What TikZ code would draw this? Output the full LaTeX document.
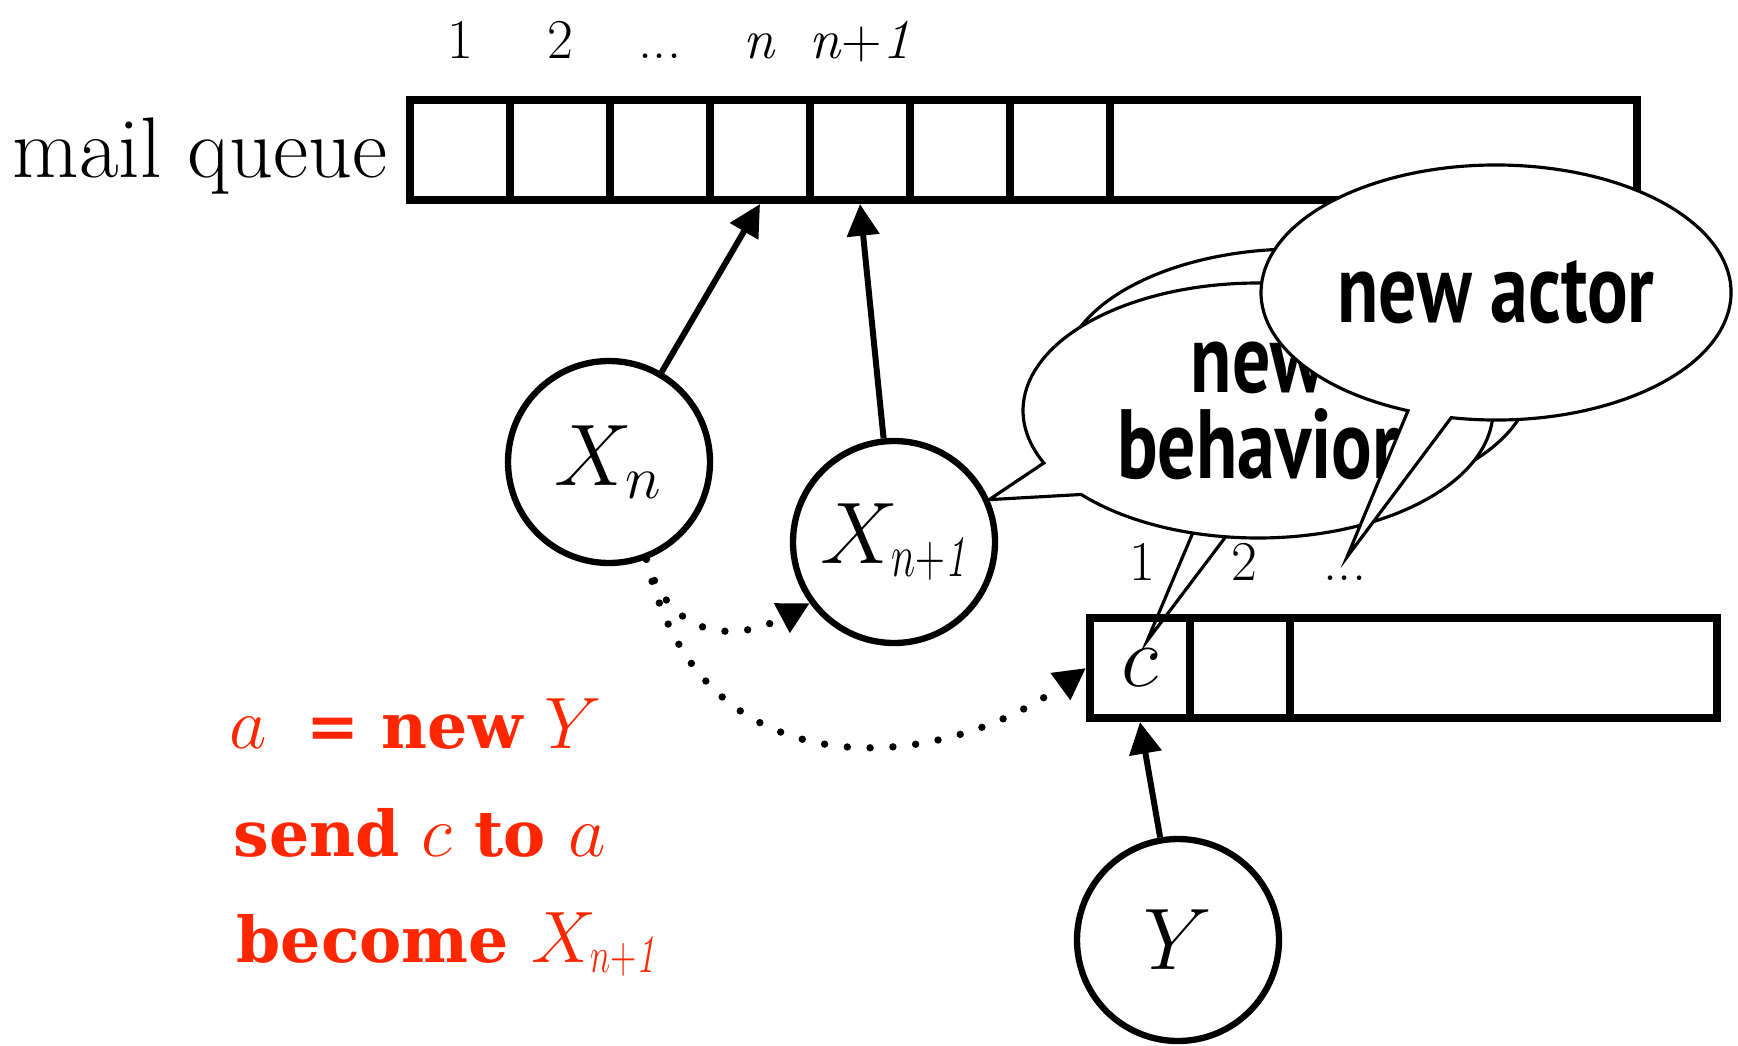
\documentclass[tikz,border=0pt]{standalone}
\usepackage{fontspec}
\usepackage{xcolor}
\usetikzlibrary{arrows.meta}
\usetikzlibrary{calc, math, positioning}
\definecolor{myred}{RGB}{255, 38, 0}
\newfontfamily\slabfont{DejaVu Serif}
\newfontfamily\bubblefont{PT Sans}
\newcommand{\Xnext}{X_{\scalebox{0.68}[1]{$\scriptstyle n+\mathit{1}$}}}
\newcommand{\redvar}[1]{{\fontsize{22}{26}\selectfont$#1$}}

\tikzset{
cell/.style={draw, line width=2.3pt, minimum width=1cm, minimum height=1cm, inner sep=0pt},
actor/.style={draw, circle, line width=1.8pt, minimum size=2.02cm, inner sep=0pt, font=\fontsize{24}{28}\selectfont},
msg/.style={-{Triangle[length=9pt,width=9pt]}, line width=1.7pt},
dots/.style={msg, line width=2.1pt, line cap=round, dash pattern=on 0pt off 6.5pt},
bubble/.style={draw, fill=white, line width=0.9pt, miter limit=25},
saytext/.style={font=\bubblefont\bfseries\fontsize{28}{24.5}\selectfont, align=center, xscale=0.77, transform shape},
cmd/.style={text=myred, anchor=base west, inner sep=0pt, font=\slabfont\bfseries\fontsize{18}{22}\selectfont},
num/.style={anchor=base, inner sep=0pt, font=\fontsize{16}{19}\selectfont}
}

\begin{document}
\begin{tikzpicture}
\tikzmath{
\rx=2.35;
\ry=1.275;
}
\useasboundingbox (0,0) rectangle (17.38,-10.45);

% mail queue of X
\foreach \i in {1,...,7}
  \node[cell] (q\i) at (3.6+\i,-1.5) {};
\node[cell, minimum width=5.27cm] (qrest) at (13.735,-1.5) {};
\node[anchor=base east, inner sep=0pt, font=\fontsize{24.5}{29}\selectfont] (mq) at (3.88,-1.77) {mail queue};
\foreach \i/\t in {1/1, 2/2, 3/{...}, 4/\textit{n}, 5/{\textit{n}+\textit{1}}}
  \node[num] (lab\i) at (3.6+\i,-0.58) {\t};

% actors
\node[actor] (Xn) at (6.09,-4.62) {$X_n$};
\node[actor] (Xn1) at (8.94,-5.42) {$\Xnext$};
\node[actor] (Y) at (11.78,-9.40) {$Y$};

\draw[msg] (Xn) -- (q4.south);
\draw[msg] (Xn1) -- (q5.south);

% speech bubbles
\coordinate (bubB) at (12.97,-3.765);
\coordinate (bubF) at (12.58,-4.105);
\coordinate (bubA) at (14.96,-2.925);

\draw[bubble] (bubB) ++(259:\rx cm and \ry cm) arc[start angle=259, end angle=608, x radius=\rx cm, y radius=\ry cm] -- ($(bubB)+(-1.50,-2.645)$) -- cycle;
\draw[bubble] (bubF) ++(221.2:\rx cm and \ry cm) arc[start angle=221.2, end angle=564.3, x radius=\rx cm, y radius=\ry cm] -- (Xn1.24) -- cycle;
\node[saytext] (ftext) at (bubF) {new\\behavior};
\draw[bubble] (bubA) ++(259:\rx cm and \ry cm) arc[start angle=259, end angle=608, x radius=\rx cm, y radius=\ry cm] -- ($(bubA)+(-1.49,-2.645)$) -- cycle;
\node[saytext] (atext) at (bubA) {new actor};

% mail queue of Y
\node[cell, font=\fontsize{24}{28}\selectfont] (b1) at (11.40,-6.68) {$c$};
\node[cell] (b2) at (12.40,-6.68) {};
\node[cell, minimum width=4.27cm] (brest) at (15.035,-6.68) {};
\foreach \x/\t [count=\i] in {11.42/1, 12.44/2, 13.45/{...}}
  \node[num] (blab\i) at (\x,-5.80) {\t};

\draw[msg] (Y) -- (b1.south);
\draw[dots] (Xn.291) .. controls +(0.25,-0.83) and +(-0.71,-0.38) .. (Xn1.216);
\draw[dots] (Xn.291) .. controls +(0.55,-2.43) and +(-1.40,-1.02) .. (b1.west);

% what X_n does
\node[cmd] (cmd1) at (2.29,-7.48) {\redvar{a}\hspace{5pt} = new \redvar{Y}};
\node[cmd] (cmd2) at (2.33,-8.56) {send \redvar{c} to \redvar{a}};
\node[cmd] (cmd3) at (2.36,-9.62) {become \redvar{\Xnext}};
\end{tikzpicture}
\end{document}
